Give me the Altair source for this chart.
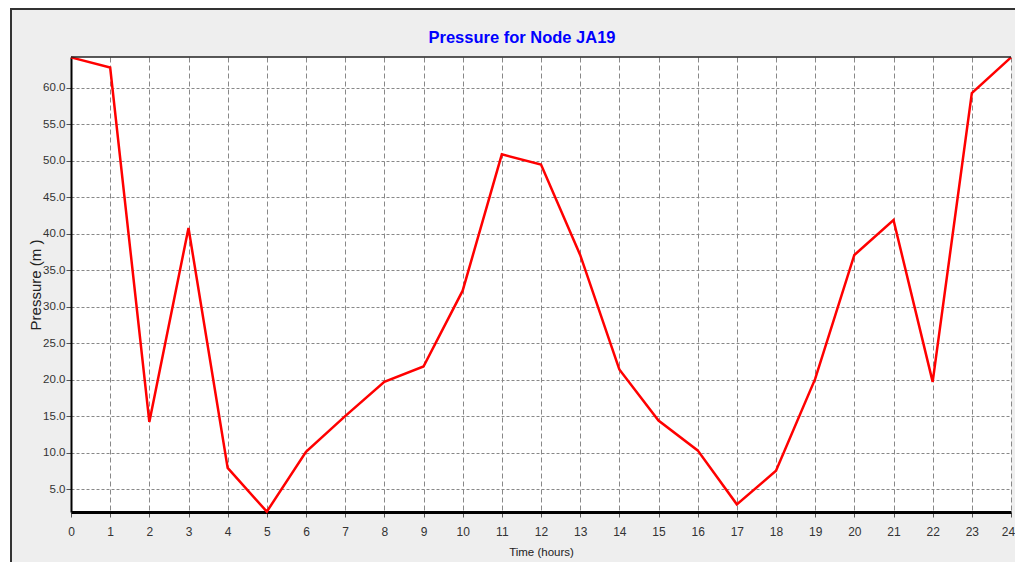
import altair as alt
import pandas as pd

hours = list(range(25))
pressure = [64.2, 62.8, 14.2, 40.8, 7.9, 1.9, 10.1, 15.0, 19.7, 21.8, 32.2, 50.9,
            49.5, 37.1, 21.4, 14.4, 10.3, 2.9, 7.5, 20.1, 37.1, 41.9, 19.7, 59.3, 64.2]
y_ticks = [5, 10, 15, 20, 25, 30, 35, 40, 45, 50, 55, 60]
x_ticks = list(range(25))
chart_title = ["Pressure for Node JA19"]

df = pd.DataFrame({"hour": hours, "pressure": pressure})
one = pd.DataFrame({"t": chart_title})

FONT = "Liberation Sans, Arial, sans-serif"

line = alt.Chart(df).mark_line(color="#FF0000", strokeWidth=2.5, clip=False).encode(
    x=alt.X("hour:Q",
            scale=alt.Scale(domain=[0, 24], nice=False, zero=False),
            axis=alt.Axis(values=x_ticks, format="d", title="Time (hours)",
                          domainColor="#000000", domainWidth=3,
                          tickColor="#555555", tickSize=5, tickWidth=1,
                          labelFont=FONT, labelFontSize=12, labelColor="#333333",
                          labelPadding=9, labelFlush=False,
                          labelOffset={"condition": {"test": "datum.value == 24", "value": -3},
                                       "value": 0},
                          titleFont=FONT, titleFontSize=11.5, titleFontWeight="normal",
                          titleColor="#222222", titlePadding=9,
                          grid=True, gridColor="#888888", gridDash=[5, 3], gridWidth=1)),
    y=alt.Y("pressure:Q",
            scale=alt.Scale(domain=[1.85, 64.25], nice=False, zero=False),
            axis=alt.Axis(values=y_ticks, format=".1f", title="Pressure (m )",
                          domainColor="#000000", domainWidth=2,
                          tickColor="#555555", tickSize=5, tickWidth=1,
                          labelFont=FONT, labelFontSize=11.5, labelColor="#333333",
                          labelPadding=1, labelFlush=False,
                          titleFont=FONT, titleFontSize=15, titleFontWeight="normal",
                          titleColor="#222222", titleX=-36, titleY=227.5,
                          titleBaseline="middle", titleAlign="center",
                          grid=True, gridColor="#888888", gridDash=[3, 2], gridWidth=1)),
)

title_text = alt.Chart(one).mark_text(
    color="#0000FF", fontSize=16.5, font=FONT, fontWeight="bold",
    align="center", baseline="alphabetic").encode(
    text="t:N", x=alt.value(451), y=alt.value(-14))

top_border = alt.Chart(one).mark_rule(color="#222222", strokeWidth=1.5).encode(
    x=alt.value(0), x2=alt.value(940), y=alt.value(0))
white_strip = alt.Chart(one).mark_rule(color="#FFFFFF", strokeWidth=2).encode(
    x=alt.value(-62), y=alt.value(-49), y2=alt.value(520))
frame_left = alt.Chart(one).mark_rule(color="#333333", strokeWidth=2).encode(
    x=alt.value(-60), y=alt.value(-48), y2=alt.value(520))
frame_top = alt.Chart(one).mark_rule(color="#333333", strokeWidth=2).encode(
    x=alt.value(-61), x2=alt.value(960), y=alt.value(-48))

chart = alt.layer(line, top_border, white_strip, frame_left, frame_top, title_text).properties(
    width=940, height=455,
    autosize=alt.AutoSizeParams(type="none"),
    padding={"left": 63, "top": 49, "right": 4, "bottom": 50},
).configure(background="#EEEEEE").configure_view(stroke=None, fill="#FFFFFF")

chart.save("out.html", embed_options={"renderer": "svg", "actions": False})
